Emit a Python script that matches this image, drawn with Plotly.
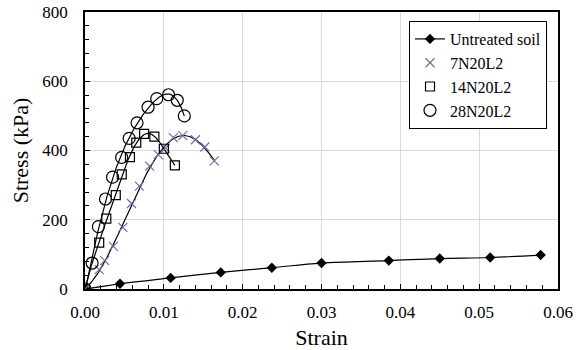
import numpy as np
import plotly.graph_objects as go

# Untreated soil
untreated_strain = [0.0, 0.00444, 0.01087, 0.01722, 0.0237, 0.0300, 0.03854, 0.0450, 0.0514, 0.0578]
untreated_stress = [0, 15, 32, 48, 61.5, 75, 82, 88, 91, 98]

# 7N20L2
s7_strain = [0.0, 0.0018, 0.0025, 0.0036, 0.0048, 0.0059, 0.0069, 0.0082, 0.0093, 0.0102, 0.0112, 0.0124, 0.0140, 0.0152, 0.0164]
s7_stress = [0, 56, 82, 123, 178, 247, 297, 355, 388, 407, 437, 443, 431, 410, 370]

# 14N20L2
s14_strain = [0.0, 0.0018, 0.0027, 0.0039, 0.00466, 0.0057, 0.0065, 0.0075, 0.0088, 0.0100, 0.0114]
s14_stress = [0, 134, 203, 271, 331, 381, 423, 448, 440, 405, 357]

# 28N20L2
s28_strain = [0.0, 0.0009, 0.0017, 0.0026, 0.0035, 0.00465, 0.0056, 0.0066, 0.0080, 0.0091, 0.0106, 0.0117, 0.0126]
s28_stress = [0, 75, 180, 260, 323, 380, 435, 480, 525, 550, 561, 545, 500]

x_ticks = [0.0, 0.01, 0.02, 0.03, 0.04, 0.05, 0.06]
y_ticks = [0, 200, 400, 600, 800]

FONT = "Liberation Serif"
PURPLE = "#7B68A6"

fig = go.Figure()

def fit_curve(xs, ys, deg):
    c = np.polyfit(xs, ys, deg)
    xx = np.linspace(0, max(xs), 200)
    return xx, np.polyval(c, xx)

for xs, ys, deg in [(s7_strain, s7_stress, 5), (s14_strain, s14_stress, 5), (s28_strain, s28_stress, 5)]:
    xx, yy = fit_curve(xs, ys, deg)
    fig.add_trace(go.Scatter(x=xx, y=yy, mode="lines", line=dict(color="black", width=1.2),
                             showlegend=False, hoverinfo="skip"))

fig.add_trace(go.Scatter(x=untreated_strain, y=untreated_stress, mode="lines+markers",
                         name="Untreated soil", line=dict(color="black", width=1.2, shape="spline"),
                         marker=dict(symbol="diamond", size=8, color="black")))
fig.add_trace(go.Scatter(x=s7_strain, y=s7_stress, mode="markers", name="7N20L2",
                         marker=dict(symbol="x-thin-open", size=9, color=PURPLE,
                                     line=dict(color=PURPLE, width=1.2))))
fig.add_trace(go.Scatter(x=s14_strain, y=s14_stress, mode="markers", name="14N20L2",
                         marker=dict(symbol="square-open", size=9, color="black",
                                     line=dict(color="black", width=1.2))))
fig.add_trace(go.Scatter(x=s28_strain, y=s28_stress, mode="markers", name="28N20L2",
                         marker=dict(symbol="circle-open", size=12, color="black",
                                     line=dict(color="black", width=1.2))))

fig.update_layout(
    width=582, height=350,
    margin=dict(l=85, r=24, t=12, b=61, autoexpand=False),
    paper_bgcolor="white", plot_bgcolor="white",
    font=dict(family=FONT, size=17, color="black"),
    legend=dict(x=0.685, y=0.9675, xanchor="left", yanchor="top",
                bgcolor="white", bordercolor="black", borderwidth=1,
                font=dict(family=FONT, size=16), tracegroupgap=0,
                itemwidth=30),
)
fig.update_xaxes(
    range=[0, 0.06], tickvals=x_ticks, ticktext=[f"{v:.2f}" for v in x_ticks],
    showgrid=True, gridcolor="#d9d9d9", gridwidth=1,
    showline=True, linecolor="black", linewidth=1.5, mirror=True,
    ticks="inside", ticklen=5, tickcolor="black",
    minor=dict(dtick=0.002, ticks="inside", ticklen=4, tickcolor="black", showgrid=False),
    title=dict(text="Strain", font=dict(family=FONT, size=22), standoff=8),
    tickfont=dict(family=FONT, size=17), zeroline=False,
    ticklabelstandoff=7, ticklabeloverflow="allow",
)
fig.update_yaxes(
    range=[0, 800], tickvals=y_ticks,
    showgrid=True, gridcolor="#d9d9d9", gridwidth=1,
    showline=True, linecolor="black", linewidth=1.5, mirror=True,
    ticks="inside", ticklen=5, tickcolor="black",
    minor=dict(dtick=40, ticks="inside", ticklen=4, tickcolor="black", showgrid=False),
    title=dict(text="Stress (kPa)", font=dict(family=FONT, size=22), standoff=8),
    tickfont=dict(family=FONT, size=17), zeroline=False,
    ticklabelstandoff=12, ticklabeloverflow="allow",
)

fig.write_html("out.html", config={"displayModeBar": False},
               post_script="document.body.style.margin='0';")
